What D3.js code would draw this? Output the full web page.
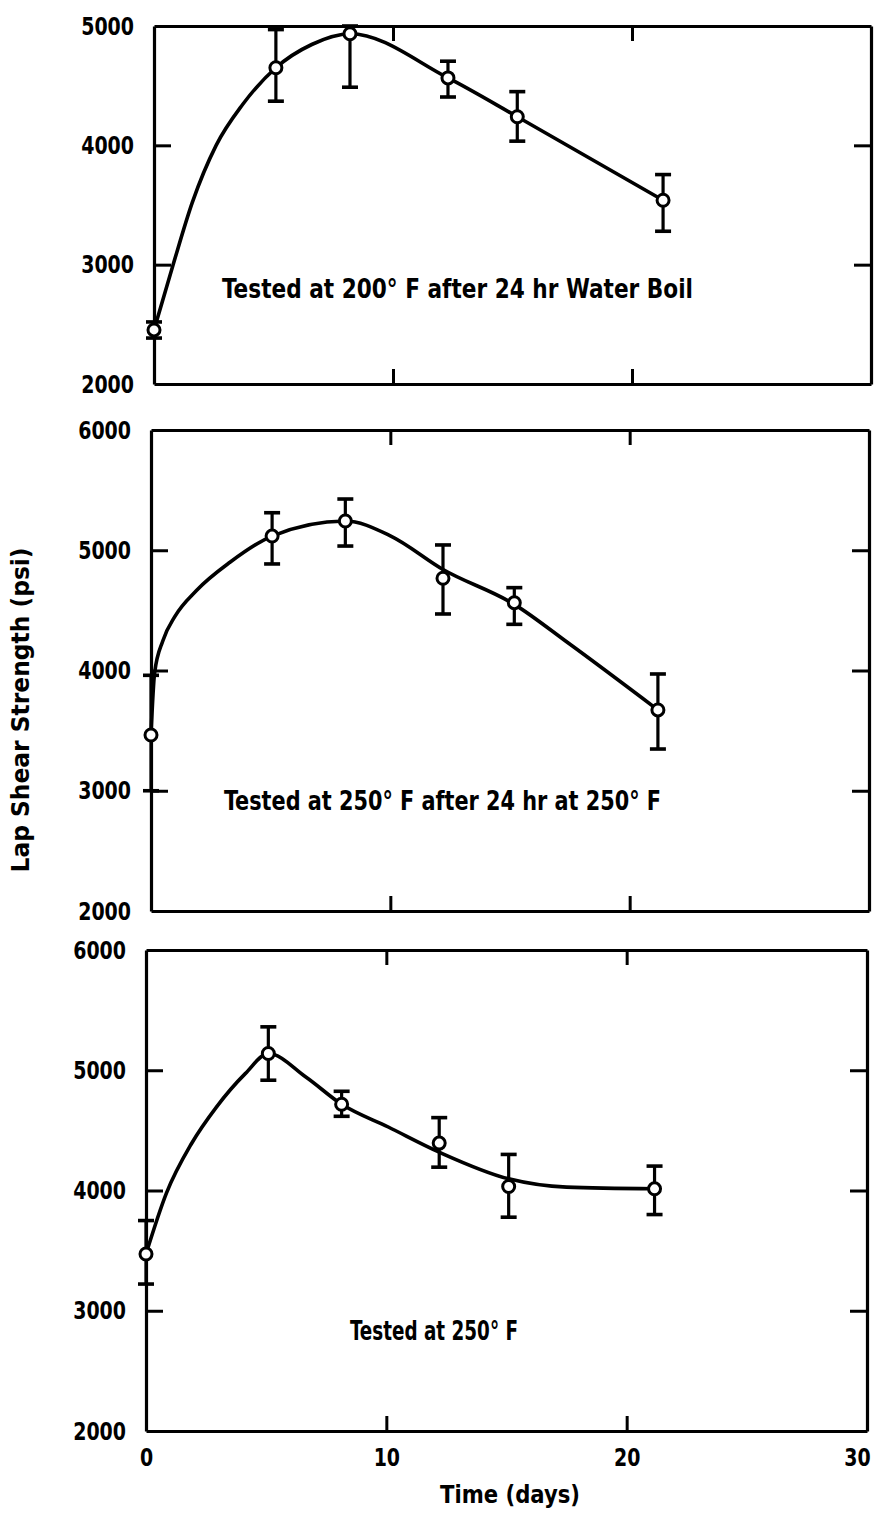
<!DOCTYPE html>
<html>
<head>
<meta charset="utf-8">
<script src="https://cdn.jsdelivr.net/npm/d3@7"></script>
<style>
  body { margin: 0; background: #fff; }
  svg text { font-family: 'DejaVu Sans Condensed', 'DejaVu Sans', sans-serif; font-stretch: condensed; font-weight: bold; fill: #000; }
</style>
</head>
<body>
<div id="chart"></div>
<script>
// ---- data ----
// panel 1: tested at 200 F after 24 hr water boil
const days1 = [0, 5.1, 8.2, 12.3, 15.2, 21.3]
const psi1 = [2453, 4650, 4935, 4565, 4240, 3540]
const hi1 = [2520, 4970, 5000, 4705, 4450, 3755]
const lo1 = [2385, 4370, 4487, 4405, 4035, 3280]
const fitDays1 = [0, 0.8, 1.6, 2.6, 3.7, 5.1, 6.6, 8.2, 12.3, 15.2, 21.3]
const fitPsi1 = [2453, 3000, 3520, 4000, 4340, 4650, 4845, 4935, 4565, 4240, 3540]

// panel 2: tested at 250 F after 24 hr at 250 F
const days2 = [0, 5.06, 8.12, 12.2, 15.18, 21.18]
const psi2 = [3464, 5118, 5243, 4767, 4564, 3672]
const hi2 = [3960, 5312, 5426, 5044, 4689, 3971]
const lo2 = [3000, 4886, 5035, 4470, 4384, 3347]
const fitDays2 = [0, 0.15, 0.5, 1.0, 1.9, 3.3, 5.06, 8.12, 10.0, 12.2, 15.18, 17.45, 21.18]
const fitPsi2 = [3464, 3980, 4250, 4450, 4665, 4900, 5118, 5243, 5120, 4840, 4550, 4226, 3672]

// panel 3: tested at 250 F
const days3 = [0, 5.09, 8.14, 12.2, 15.09, 21.16]
const psi3 = [3472, 5139, 4717, 4394, 4033, 4014]
const hi3 = [3750, 5361, 4825, 4606, 4300, 4203]
const lo3 = [3222, 4917, 4617, 4194, 3778, 3800]
const fitDays3 = [0, 0.85, 1.89, 2.93, 4.13, 5.09, 6.65, 8.14, 10.08, 12.2, 15.09, 17.5, 21.16]
const fitPsi3 = [3472, 3978, 4389, 4694, 4972, 5139, 4944, 4717, 4528, 4319, 4097, 4028, 4014]

const notes = ["Tested at 200° F after 24 hr  Water Boil", "Tested at 250° F after 24 hr at 250° F", "Tested at 250° F"]
const yTicks1 = [2000, 3000, 4000, 5000]
const yTicks2 = [2000, 3000, 4000, 5000, 6000]
const xTicks = [0, 10, 20, 30]
const yTitle = "Lap Shear Strength (psi)"
const xTitle = "Time (days)"

// ---- layout ----
const WIDTH = 874
const HEIGHT = 1513

const panels = [
    {left: 154, right: 871, top: 26, bottom: 384, ticks: yTicks1, days: days1, psi: psi1, hi: hi1, lo: lo1,
     fitDays: fitDays1, fitPsi: fitPsi1, note: notes[0], noteX: 222, noteY: 298, noteW: 471},
    {left: 151, right: 869, top: 430, bottom: 911, ticks: yTicks2, days: days2, psi: psi2, hi: hi2, lo: lo2,
     fitDays: fitDays2, fitPsi: fitPsi2, note: notes[1], noteX: 224, noteY: 810, noteW: 437},
    {left: 146, right: 867, top: 950, bottom: 1431, ticks: yTicks2, days: days3, psi: psi3, hi: hi3, lo: lo3,
     fitDays: fitDays3, fitPsi: fitPsi3, note: notes[2], noteX: 350, noteY: 1340, noteW: 168}
]

const svg = d3.select("#chart")
    .append("svg")
    .attr("width", WIDTH)
    .attr("height", HEIGHT)

const digitW = 13.2

panels.forEach((p, i) => {
    const x = d3.scaleLinear()
        .domain([0, 30])
        .range([p.left, p.right])
    const y = d3.scaleLinear()
        .domain([p.ticks[0], p.ticks[p.ticks.length - 1]])
        .range([p.bottom, p.top])

    const inner = p.ticks.slice(1, -1)
    const g = svg.append("g")

    // frame + inward ticks
    const frame = [
        [d3.axisLeft(y).tickValues(inner).tickSize(-17), "translate(" + p.left + ",0)"],
        [d3.axisRight(y).tickValues(inner).tickSize(-17), "translate(" + p.right + ",0)"],
        [d3.axisTop(x).tickValues([10, 20]).tickSize(-15), "translate(0," + p.top + ")"],
        [d3.axisBottom(x).tickValues([10, 20]).tickSize(-15), "translate(0," + p.bottom + ")"]
    ]
    frame.forEach(([ax, tr]) => {
        const a = g.append("g")
            .attr("class", "frame")
            .attr("transform", tr)
            .call(ax.tickSizeOuter(0).tickFormat(""))
        a.select(".domain").attr("stroke", "#000").attr("stroke-width", 3.2)
        a.selectAll(".tick line").attr("stroke", "#000").attr("stroke-width", 3)
    })

    // y tick labels
    const yl = g.append("g")
        .attr("transform", "translate(" + p.left + ",0)")
        .call(d3.axisLeft(y).tickValues(p.ticks).tickSize(0).tickPadding(20).tickFormat(d3.format("d")))
    yl.select(".domain").remove()
    yl.selectAll("text")
        .attr("font-size", 25)
        .attr("font-family", null)
        .attr("textLength", d => String(d).length * digitW)
        .attr("lengthAdjust", "spacingAndGlyphs")

    // x tick labels under bottom panel only
    if (i === panels.length - 1) {
        const xl = g.append("g")
            .attr("transform", "translate(0," + p.bottom + ")")
            .call(d3.axisBottom(x).tickValues(xTicks).tickSize(0).tickPadding(17).tickFormat(d3.format("d")))
        xl.select(".domain").remove()
        xl.selectAll("text")
            .attr("font-size", 25)
            .attr("font-family", null)
            .attr("dx", d => d === 30 ? -10 : 0)
            .attr("textLength", d => String(d).length * digitW)
            .attr("lengthAdjust", "spacingAndGlyphs")
    }

    // fitted curve
    const fit = p.fitDays.map((d, k) => [d, p.fitPsi[k]])
    const line = d3.line()
        .x(d => x(d[0]))
        .y(d => y(d[1]))
        .curve(d3.curveMonotoneX)
    g.append("path")
        .datum(fit)
        .attr("d", line)
        .attr("fill", "none")
        .attr("stroke", "#000")
        .attr("stroke-width", 3.6)

    // error bars
    const pts = p.days.map((d, k) => ({day: d, v: p.psi[k], hi: p.hi[k], lo: p.lo[k]}))
    const eb = g.append("g")
        .selectAll("g")
        .data(pts)
        .enter()
        .append("g")
    eb.append("line")
        .attr("x1", d => x(d.day))
        .attr("x2", d => x(d.day))
        .attr("y1", d => y(d.hi))
        .attr("y2", d => y(d.lo))
        .attr("stroke", "#000")
        .attr("stroke-width", 3.2)
    eb.selectAll(".cap")
        .data(d => [d.hi, d.lo].map(v => ({day: d.day, v: v})))
        .enter()
        .append("line")
        .attr("class", "cap")
        .attr("x1", d => x(d.day) - 8)
        .attr("x2", d => x(d.day) + 8)
        .attr("y1", d => y(d.v))
        .attr("y2", d => y(d.v))
        .attr("stroke", "#000")
        .attr("stroke-width", 3.6)

    // markers
    g.append("g")
        .selectAll("circle")
        .data(pts)
        .enter()
        .append("circle")
        .attr("cx", d => x(d.day))
        .attr("cy", d => y(d.v))
        .attr("r", 6)
        .attr("fill", "#fff")
        .attr("stroke", "#000")
        .attr("stroke-width", 3)

    // panel note
    g.append("text")
        .attr("x", p.noteX)
        .attr("y", p.noteY)
        .attr("font-size", 27)
        .attr("textLength", p.noteW)
        .attr("lengthAdjust", "spacingAndGlyphs")
        .text(p.note)
})

svg.append("text")
    .attr("transform", "translate(29,710) rotate(-90)")
    .attr("text-anchor", "middle")
    .attr("font-size", 24)
    .attr("textLength", 325)
    .attr("lengthAdjust", "spacingAndGlyphs")
    .text(yTitle)

svg.append("text")
    .attr("x", 510)
    .attr("y", 1503)
    .attr("text-anchor", "middle")
    .attr("font-size", 24)
    .attr("textLength", 140)
    .attr("lengthAdjust", "spacingAndGlyphs")
    .text(xTitle)
</script>
</body>
</html>
